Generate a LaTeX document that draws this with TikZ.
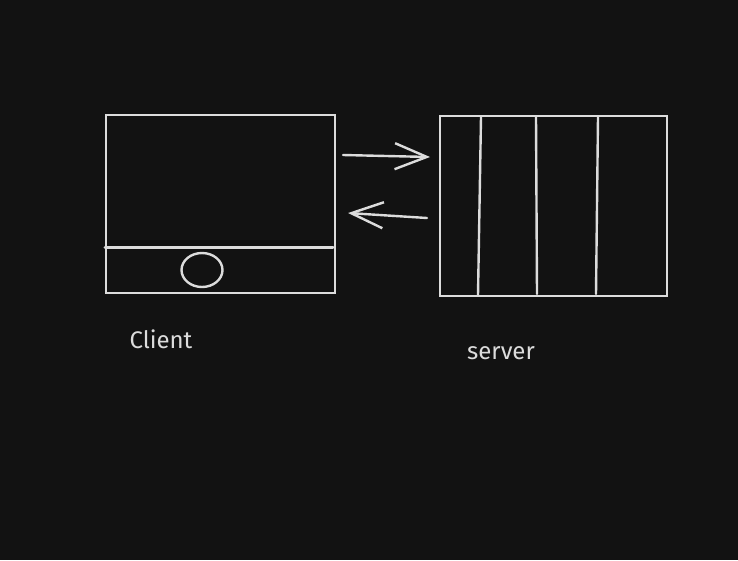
\documentclass[tikz,border=0pt]{standalone}
\usepackage{fontspec}
\setmainfont{Fira Sans}
\usepackage{tikz}
\usetikzlibrary{positioning, arrows.meta, shapes.geometric}

\definecolor{canvas}{HTML}{121212}
\definecolor{chalk}{HTML}{DCDCDC}

\tikzset{
    box/.style={draw=chalk, line width=2.4pt, inner sep=0pt},
    line/.style={draw=chalk, line width=2.4pt, line cap=round},
    msg/.style={line, -{Straight Barb[length=32pt, width=26pt, line width=2.4pt]}},
    label/.style={text=chalk, font=\fontsize{24}{28}\selectfont}
}

\begin{document}
\begin{tikzpicture}[x=1pt, y=-1pt]
    \fill[canvas] (0,0) rectangle (738,560);
    \useasboundingbox (0,0) rectangle (738,560);

    % client window with a bottom bar
    \node[box, minimum width=229pt, minimum height=178pt, anchor=north west] (client) at (105,114) {};
    \draw[line, line width=3pt] (105,247) -- (333,247);
    \node[box, ellipse, minimum width=41pt, minimum height=34pt] (button) at (202,270) {};

    % server with columns
    \node[box, minimum width=227pt, minimum height=180pt, anchor=north west] (server) at (439,115) {};
    \draw[line] (481,117) -- (478,295);
    \draw[line] (536,117) -- (537,294);
    \draw[line] (598,117) -- (596,294);

    % request / response
    \coordinate (reqA) at (343,155);
    \coordinate (reqB) at (430,157);
    \coordinate (resA) at (427,218);
    \coordinate (resB) at (348,213);
    \draw[msg] (reqA) -- (reqB);
    \draw[msg] (resA) -- (resB);

    \node[label] (clientlabel) at (161,339) {Client};
    \node[label] (serverlabel) at (501,353) {server};
\end{tikzpicture}
\end{document}
